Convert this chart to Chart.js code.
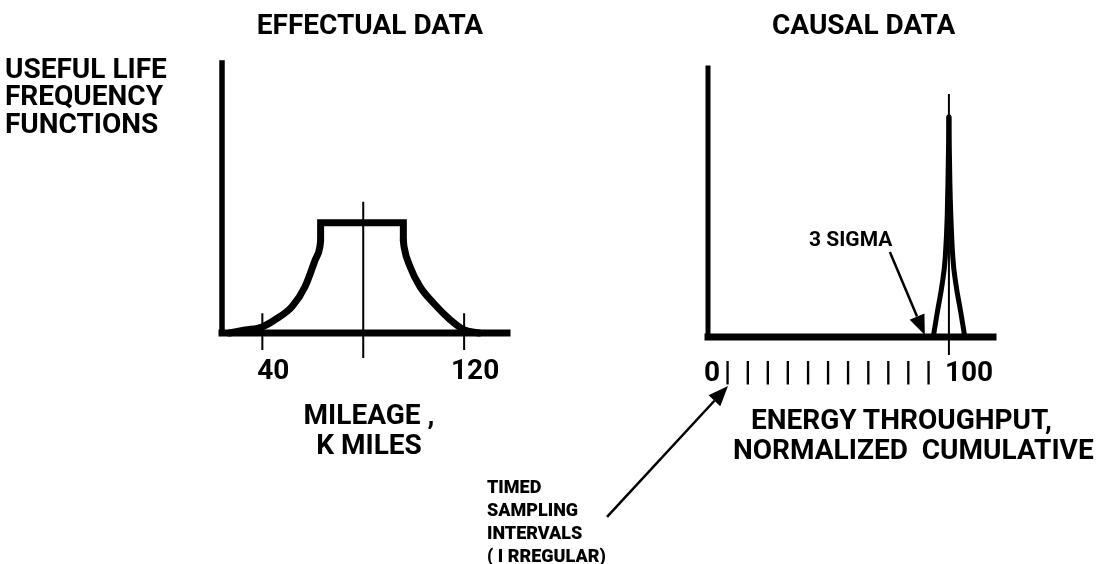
<!DOCTYPE html>
<html>
<head>
<meta charset="utf-8">
<script src="https://cdn.jsdelivr.net/npm/chart.js@4.4.1/dist/chart.umd.min.js"></script>
<style>
  html, body { margin: 0; padding: 0; background: #fff; }
  #page { position: relative; width: 1106px; height: 564px; overflow: hidden;
          font-family: Roboto, "Liberation Sans", sans-serif; font-weight: 700; color: #000; }
  #page canvas { position: absolute; left: 0; top: 0; }
  .txt { position: absolute; white-space: pre; font-size: 28px; line-height: 28px; }
  .small { font-size: 18px; line-height: 23px; font-weight: 900; }
</style>
</head>
<body>
<div id="page">
  <canvas id="effectual" width="1106" height="564"></canvas>
  <canvas id="causal" width="1106" height="564"></canvas>

  <div class="txt" style="left:370px; top:11px; transform:translateX(-50%)">EFFECTUAL DATA</div>
  <div class="txt" style="left:772px; top:11px">CAUSAL DATA</div>
  <div class="txt" style="left:5px; top:54.5px; line-height:27.5px">USEFUL LIFE<br>FREQUENCY<br>FUNCTIONS</div>
  <div class="txt" style="left:369px; top:400px; line-height:30px; text-align:center; transform:translateX(-50%)">MILEAGE ,<br>K MILES</div>
  <div class="txt" style="left:751px; top:406px">ENERGY THROUGHPUT,</div>
  <div class="txt" style="left:733px; top:436px">NORMALIZED  CUMULATIVE</div>
  <div class="txt" style="left:809px; top:229px; font-size:21px; line-height:21px">3 SIGMA</div>
  <div class="txt small" style="left:487px; top:475px">TIMED<br>SAMPLING<br>INTERVALS<br>( I RREGULAR)</div>
</div>

<script>
// ---- effectual data: mileage (K miles) ----
const mileageTicks = [40, 120];
const mileageTickLabels = ['40', '120'];
const mileageMean = 80;
const plateauX = [63.1, 63.1, 95.9, 95.9];
const plateauY = [0.84, 1, 1, 0.84];
const leftFlankX = [27, 33.2, 39.9, 45.0, 51.8, 56.9, 60.9, 62.8, 63.1];
const leftFlankY = [0, 0.027, 0.055, 0.12, 0.24, 0.42, 0.66, 0.78, 0.84];
const rightFlankX = [95.9, 96.2, 98.6, 102.5, 107.9, 114.5, 119.8, 126];
const rightFlankY = [0.84, 0.78, 0.6, 0.42, 0.27, 0.12, 0.03, 0];

// ---- causal data: energy throughput, normalized cumulative ----
const energyTicks = [0, 8.3, 16.7, 25, 33.3, 41.7, 50, 58.3, 66.7, 75, 83.3, 91.7, 100];
const energyTickLabels = ['0', '|', '|', '|', '|', '|', '|', '|', '|', '|', '|', '|', '100'];
const energyMean = 100;
const peakLeftX = [93.5, 95.3, 97.2, 98.5, 99.3, 99.6, 99.9, 100];
const peakLeftY = [0, 0.12, 0.24, 0.365, 0.55, 0.70, 0.9, 1.0];
const peakRightX = [100, 100.1, 100.4, 100.8, 101.6, 102.9, 104.8, 106.6];
const peakRightY = [1.0, 0.9, 0.70, 0.55, 0.365, 0.24, 0.12, 0];

// arrows on the causal chart (in its data units)
const arrowFromX = [75.5, -41.9];
const arrowFromY = [0.386, -0.818];
const arrowToX = [90.0, 8.3];
const arrowToY = [0.009, -0.223];

Chart.defaults.font.family = 'Roboto, "Liberation Sans", sans-serif';
Chart.defaults.color = '#000';

const pts = (xs, ys) => xs.map((x, i) => ({ x, y: ys[i] }));

function line(data, width, extra) {
  return Object.assign({
    data, borderColor: '#000', borderWidth: width, pointRadius: 0,
    tension: 0, clip: false, borderCapStyle: 'square', borderJoinStyle: 'miter', fill: false
  }, extra || {});
}

const smooth = { cubicInterpolationMode: 'monotone', borderCapStyle: 'round', borderJoinStyle: 'round' };

function options(xMin, xMax, yMax, ticks, labels, padding, tickPadding, align, labelOffset) {
  return {
    responsive: false,
    animation: false,
    events: [],
    layout: { padding },
    plugins: { legend: { display: false }, tooltip: { enabled: false } },
    scales: {
      x: {
        type: 'linear', min: xMin, max: xMax,
        grid: { display: false, drawTicks: false },
        border: { display: false },
        afterBuildTicks: (scale) => { scale.ticks = ticks.map(v => ({ value: v })); },
        ticks: {
          padding: tickPadding, align, labelOffset, maxRotation: 0, autoSkip: false,
          font: { size: 28, weight: 'bold' },
          callback: (v, i) => labels[i]
        }
      },
      y: { type: 'linear', display: false, min: 0, max: yMax }
    }
  };
}

new Chart(document.getElementById('effectual'), {
  type: 'line',
  data: {
    datasets: [
      line(pts([24, 24], [2.45, 0]), 5.5),
      line(pts([24, 137], [0, 0]), 7),
      line(pts(plateauX, plateauY), 7, { borderCapStyle: 'round' }),
      line(pts(leftFlankX, leftFlankY), 7, smooth),
      line(pts(rightFlankX, rightFlankY), 7, smooth),
      line(pts([mileageMean, mileageMean], [1.19, -0.227]), 2, { borderCapStyle: 'butt' }),
      ...mileageTicks.map(t => line(pts([t, t], [0.18, -0.155]), 2, { borderCapStyle: 'butt' }))
    ]
  },
  options: options(24, 137, 2.45, mileageTicks, mileageTickLabels,
    { left: 222, right: 599, top: 63, bottom: 153.4 }, 22, 'center', 11)
});

const arrowPlugin = {
  id: 'arrows',
  afterDatasetsDraw(chart) {
    const { ctx } = chart;
    const sx = chart.scales.x, sy = chart.scales.y;
    ctx.save();
    ctx.strokeStyle = '#000';
    ctx.fillStyle = '#000';
    ctx.lineWidth = 2.5;
    arrowFromX.forEach((fx, i) => {
      const x0 = sx.getPixelForValue(fx), y0 = sy.getPixelForValue(arrowFromY[i]);
      const x1 = sx.getPixelForValue(arrowToX[i]), y1 = sy.getPixelForValue(arrowToY[i]);
      const a = Math.atan2(y1 - y0, x1 - x0);
      const len = 20, half = 8;
      const bx = x1 - len * Math.cos(a), by = y1 - len * Math.sin(a);
      ctx.beginPath(); ctx.moveTo(x0, y0); ctx.lineTo(bx, by); ctx.stroke();
      ctx.beginPath();
      ctx.moveTo(x1, y1);
      ctx.lineTo(bx + half * Math.sin(a), by - half * Math.cos(a));
      ctx.lineTo(bx - half * Math.sin(a), by + half * Math.cos(a));
      ctx.closePath(); ctx.fill();
    });
    ctx.restore();
  }
};

new Chart(document.getElementById('causal'), {
  type: 'line',
  data: {
    datasets: [
      line(pts([0, 0], [1.223, 0]), 5),
      line(pts([0, 118.3], [0, 0]), 7),
      line(pts(peakLeftX, peakLeftY), 5, smooth),
      line(pts(peakRightX, peakRightY), 5, smooth),
      line(pts([energyMean, energyMean], [1.105, -0.082]), 2, { borderCapStyle: 'butt' })
    ]
  },
  options: options(0, 118.3, 1.223, energyTicks, energyTickLabels,
    { left: 708, right: 113, top: 68, bottom: 153.4 }, 20, 'start', -4),
  plugins: [arrowPlugin]
});
</script>
</body>
</html>
